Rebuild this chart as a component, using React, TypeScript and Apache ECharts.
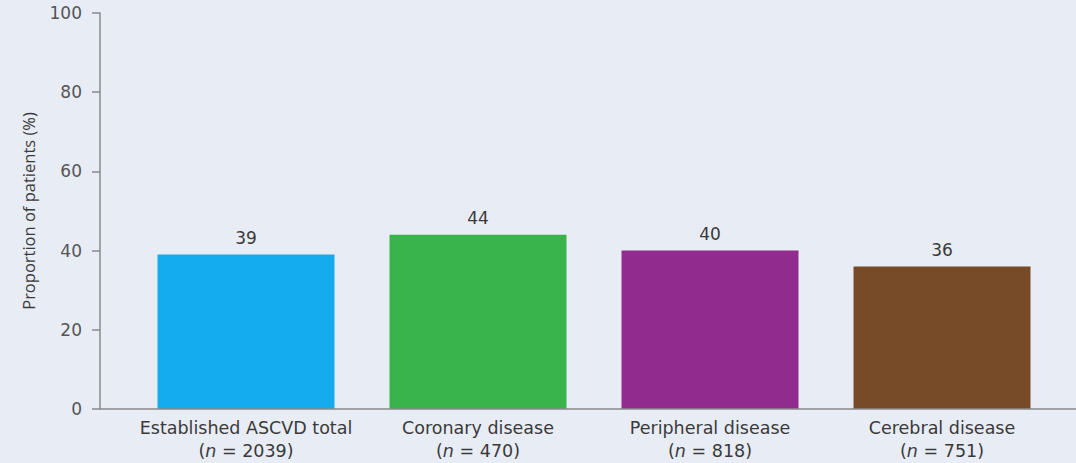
import React, { useEffect, useRef } from "react";
import * as echarts from "echarts";

const categories = ["Established ASCVD total", "Coronary disease", "Peripheral disease", "Cerebral disease"];
const sampleSizes = ["2039", "470", "818", "751"];
const values = [39, 44, 40, 36];
const barColors = ["#14ACEC", "#38B44A", "#922B8E", "#774B28"];
const yTicks = [0, 20, 40, 60, 80, 100];

export default function App() {
  const ref = useRef<HTMLDivElement>(null);
  useEffect(() => {
    if (!ref.current) return;
    const chart = echarts.init(ref.current, null, { renderer: "svg" });
    const textColor = "#3a3a3a";
    const font = "DejaVu Sans";
    chart.setOption({
      animation: false,
      backgroundColor: "#E8ECF5",
      textStyle: { fontFamily: font },
      grid: { left: 130, right: 18, top: 13, bottom: 54 },
      xAxis: {
        type: "category",
        data: categories.map((c, i) => `${c}\n({i|n} = ${sampleSizes[i]})`),
        axisLine: { show: false },
        axisTick: { show: false },
        axisLabel: {
          color: textColor,
          fontSize: 17.5,
          lineHeight: 23,
          margin: 7,
          interval: 0,
          fontFamily: font,
          rich: { i: { fontStyle: "italic", fontSize: 17.5, color: textColor, fontFamily: font } },
        },
      },
      yAxis: {
        type: "value",
        min: yTicks[0],
        max: yTicks[yTicks.length - 1],
        interval: 20,
        offset: 30,
        name: "Proportion of patients (%)",
        nameLocation: "middle",
        nameGap: 63,
        nameRotate: 90,
        nameTextStyle: { color: textColor, fontSize: 16.5, fontWeight: "normal", fontFamily: "Open Sans" },
        axisLine: { show: true, lineStyle: { color: "#8a8a8a", width: 1.5 } },
        axisTick: { show: true, length: 8, lineStyle: { color: "#8a8a8a", width: 1.5 } },
        axisLabel: { color: "#555", fontSize: 17, margin: 18, fontFamily: font },
        splitLine: { show: false },
      },
      graphic: [
        {
          type: "line",
          shape: { x1: 100, y1: 409, x2: 1076, y2: 409 },
          style: { stroke: "#8a8a8a", lineWidth: 1.5 },
          z: 10,
        },
      ],
      series: [
        {
          type: "bar",
          barWidth: 177,
          data: values.map((v, i) => ({ value: v, itemStyle: { color: barColors[i] } })),
          label: { show: true, position: "top", distance: 8, color: textColor, fontSize: 17, fontFamily: font },
        },
      ],
    });
    return () => chart.dispose();
  }, []);
  return <div ref={ref} style={{ position: "fixed", left: 0, top: 0, width: 1076, height: 463 }} />;
}
